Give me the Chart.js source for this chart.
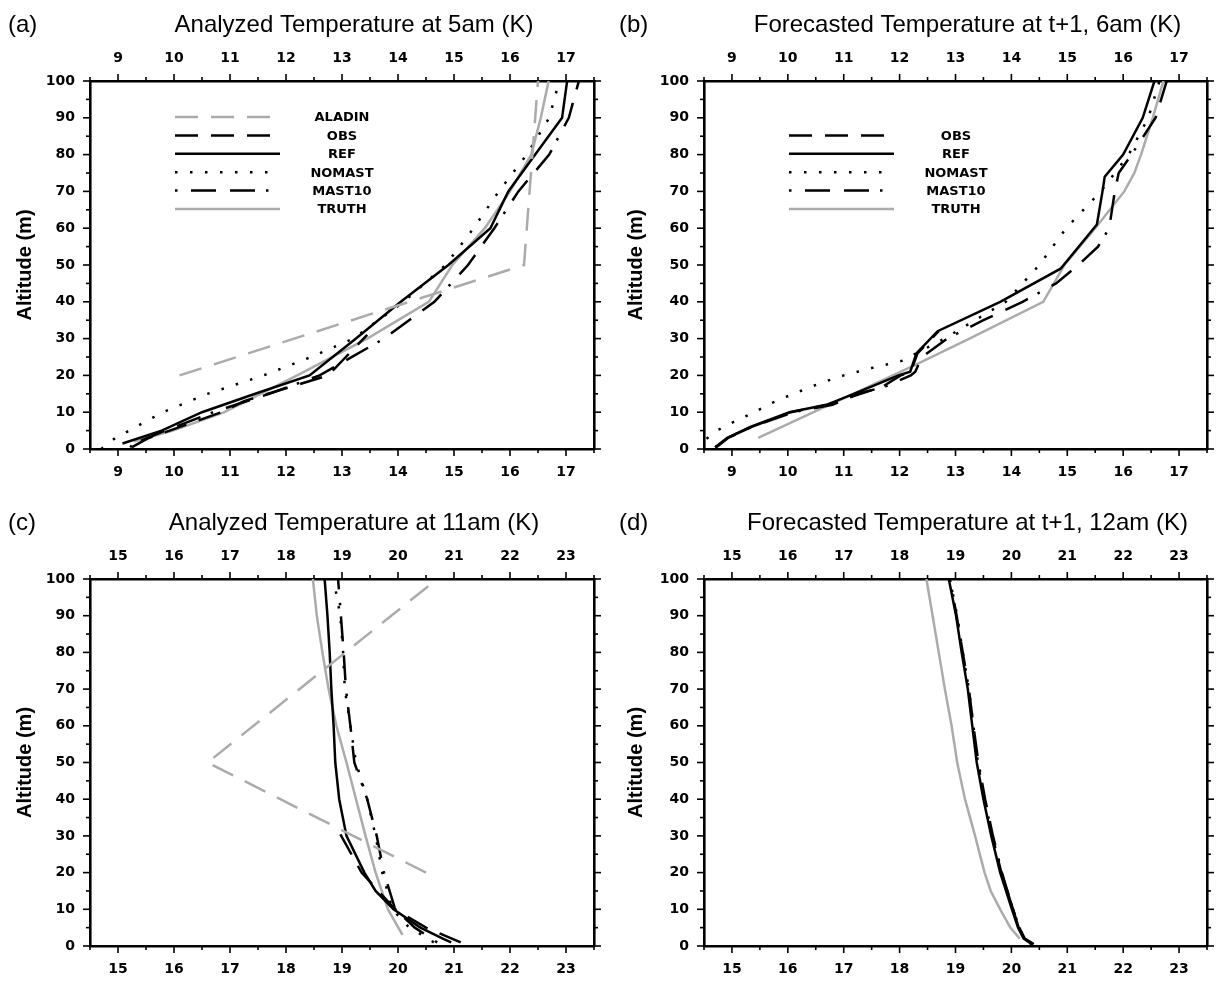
<!DOCTYPE html>
<html><head><meta charset="utf-8">
<script src="https://cdn.jsdelivr.net/npm/chart.js@4.4.1/dist/chart.umd.min.js"></script>
<style>
html,body{margin:0;padding:0;background:#fff;}
body{width:1222px;height:983px;position:relative;overflow:hidden;}
canvas{position:absolute;display:block;}
</style></head><body>
<canvas id="ca" width="611" height="492" style="left:0;top:0"></canvas>
<canvas id="cb" width="611" height="492" style="left:611px;top:0"></canvas>
<canvas id="cc" width="611" height="491" style="left:0;top:492px"></canvas>
<canvas id="cd" width="611" height="491" style="left:611px;top:492px"></canvas>
<script>
// ---------- tick labels ----------
const xTicksAB = [9, 10, 11, 12, 13, 14, 15, 16, 17];
const xTicksCD = [15, 16, 17, 18, 19, 20, 21, 22, 23];
const yTicks = [0, 10, 20, 30, 40, 50, 60, 70, 80, 90, 100];
const SERIES_NAMES = ['ALADIN', 'OBS', 'REF', 'NOMAST', 'MAST10', 'TRUTH'];
const titles = ['Analyzed Temperature at 5am (K)', 'Forecasted Temperature at t+1, 6am (K)',
                'Analyzed Temperature at 11am (K)', 'Forecasted Temperature at t+1, 12am (K)'];
const panelLabels = ['(a)', '(b)', '(c)', '(d)'];

// ---------- panel (a) ----------
const a_ALADIN_alt = [20, 50, 100];
const a_ALADIN_T   = [10.1, 16.25, 16.5];
const a_OBS_alt    = [0.5, 3, 10, 13, 20, 31];
const a_OBS_T      = [9.25, 9.55, 10.85, 11.25, 12.75, 13.45];
const a_REF_alt    = [1.5, 5, 10, 15, 20, 30, 40, 50, 60, 70, 80, 90, 100];
const a_REF_T      = [9.08, 9.78, 10.5, 11.45, 12.42, 13.25, 14.05, 14.9, 15.65, 15.97, 16.45, 16.93, 17.02];
const a_NOMAST_alt = [0, 3, 5, 10, 15, 20, 25, 30, 40, 50, 60, 70, 80, 90, 100];
const a_NOMAST_T   = [8.7, 8.95, 9.2, 9.8, 10.6, 11.6, 12.45, 13.2, 14.1, 14.85, 15.35, 15.8, 16.3, 16.7, 16.88];
const a_MAST10_alt = [0.5, 1, 5, 10, 15, 20, 30, 40, 50, 60, 70, 80, 90, 100];
const a_MAST10_T   = [9.25, 9.2, 9.85, 10.7, 11.7, 12.6, 13.75, 14.65, 15.25, 15.72, 16.15, 16.7, 17.05, 17.23];
const a_TRUTH_alt  = [2, 5, 10, 20, 30, 40, 50, 60, 70, 80, 90, 100];
const a_TRUTH_T    = [9.28, 9.98, 10.9, 12.2, 13.45, 14.55, 14.97, 15.55, 16.0, 16.38, 16.55, 16.69];

// ---------- panel (b) ----------
const b_OBS_alt    = [0.5, 3, 6, 10, 12, 15, 17, 20, 21, 26, 32];
const b_OBS_T      = [8.72, 8.93, 9.35, 10.05, 10.72, 11.3, 11.7, 12.02, 12.2, 12.32, 12.7];
const b_REF_alt    = [0.5, 3, 6, 10, 12, 15, 20, 21, 26, 32, 40, 49, 61, 70, 74, 80, 90, 100];
const b_REF_T      = [8.7, 8.91, 9.33, 10.03, 10.69, 11.18, 11.98, 12.19, 12.3, 12.68, 13.8, 14.88, 15.53, 15.63, 15.67, 16.0, 16.35, 16.56];
const b_NOMAST_alt = [0, 2.5, 5, 7, 10, 12.5, 15, 18, 20, 22, 24, 30, 40, 50, 60, 70, 80, 90, 100];
const b_NOMAST_T   = [8.35, 8.52, 8.73, 8.98, 9.4, 9.71, 10.1, 10.6, 11.0, 11.5, 12.05, 12.8, 13.9, 14.5, 14.98, 15.6, 16.1, 16.45, 16.65];
const b_MAST10_alt = [0.5, 3, 6, 10, 12, 15, 17, 20, 21, 25, 30, 35, 40, 45, 50, 55, 60, 70, 75, 80, 90, 100];
const b_MAST10_T   = [8.7, 8.92, 9.35, 10.1, 10.8, 11.25, 11.75, 12.2, 12.28, 12.4, 12.85, 13.5, 14.2, 14.8, 15.2, 15.55, 15.75, 15.85, 15.92, 16.15, 16.58, 16.78];
const b_TRUTH_alt  = [3, 10, 15, 23, 30, 40, 50, 60, 70, 75, 80, 90, 100];
const b_TRUTH_T    = [9.47, 10.46, 11.17, 12.3, 13.25, 14.57, 14.95, 15.5, 16.02, 16.2, 16.32, 16.53, 16.72];

// ---------- panel (c) ----------
const c_ALADIN_alt = [20, 50, 100];
const c_ALADIN_T   = [20.5, 16.6, 20.7];
const c_OBS_alt    = [1, 5, 10, 20, 31];
const c_OBS_T      = [21.12, 20.5, 19.95, 19.35, 18.95];
const c_REF_alt    = [1, 2, 5, 10, 15, 20, 30, 40, 50, 60, 70, 80, 90, 100];
const c_REF_T      = [20.95, 20.8, 20.4, 19.92, 19.6, 19.4, 19.08, 18.95, 18.88, 18.85, 18.81, 18.78, 18.74, 18.69];
const c_NOMAST_alt = [1, 3, 5, 10, 20, 30, 40, 50, 60, 70, 80, 90, 100];
const c_NOMAST_T   = [20.64, 20.43, 20.2, 19.9, 19.72, 19.6, 19.45, 19.25, 19.15, 19.05, 19.02, 18.97, 18.85];
const c_MAST10_alt = [1, 5, 10, 20, 30, 40, 50, 60, 70, 80, 90, 100];
const c_MAST10_T   = [20.7, 20.3, 19.95, 19.75, 19.62, 19.45, 19.22, 19.15, 19.07, 19.03, 18.98, 18.93];
const c_TRUTH_alt  = [3, 10, 20, 30, 40, 50, 60, 70, 80, 90, 100];
const c_TRUTH_T    = [20.08, 19.82, 19.6, 19.42, 19.25, 19.08, 18.9, 18.76, 18.65, 18.55, 18.48];

// ---------- panel (d) ----------
const d_OBS_alt    = [0.5, 2, 5, 10, 20, 30];
const d_OBS_T      = [20.4, 20.24, 20.14, 20.03, 19.82, 19.66];
const d_REF_alt    = [0.5, 2, 5, 10, 20, 30, 40, 50, 60, 70, 80, 90, 100];
const d_REF_T      = [20.37, 20.22, 20.12, 20.01, 19.8, 19.64, 19.5, 19.38, 19.3, 19.22, 19.11, 19.01, 18.88];
const d_NOMAST_alt = [0.5, 2, 5, 10, 20, 30, 40, 50, 60, 70, 80, 90, 100];
const d_NOMAST_T   = [20.38, 20.24, 20.14, 20.03, 19.82, 19.66, 19.52, 19.4, 19.32, 19.24, 19.13, 19.03, 18.9];
const d_MAST10_alt = [0.5, 2, 5, 10, 20, 30, 40, 50, 60, 70, 80, 90, 100];
const d_MAST10_T   = [20.36, 20.23, 20.13, 20.03, 19.83, 19.67, 19.53, 19.41, 19.32, 19.24, 19.13, 19.02, 18.9];
const d_TRUTH_alt  = [2, 5, 10, 15, 20, 30, 40, 50, 60, 70, 80, 90, 100];
const d_TRUTH_T    = [20.15, 19.98, 19.8, 19.63, 19.52, 19.35, 19.17, 19.03, 18.93, 18.81, 18.7, 18.59, 18.48];

// ---------- styles ----------
const GRAY = '#ababab';
const STYLE = {
  ALADIN: {color: GRAY, dash: [23, 13]},
  OBS:    {color: '#000', dash: [23, 13]},
  REF:    {color: '#000', dash: []},
  NOMAST: {color: '#000', dash: [2.5, 12.5]},
  MAST10: {color: '#000', dash: [2.5, 13.5, 25, 14, 25, 11]},
  TRUTH:  {color: GRAY, dash: []}
};
const TICK_FONT = {family: 'DejaVu Sans', weight: 'bold', size: 14};

function ds(name, alt, T) {
  return {
    label: name,
    data: alt.map((a, i) => ({x: T[i], y: a})),
    borderColor: STYLE[name].color,
    borderDash: STYLE[name].dash,
    borderWidth: 2.5,
    pointRadius: 0,
    showLine: true,
    fill: false,
    tension: 0
  };
}

const framePlugin = {
  id: 'frame',
  afterDraw(chart, args, opts) {
    const ctx = chart.ctx, ca = chart.chartArea;
    ctx.save();
    ctx.strokeStyle = '#000';
    ctx.lineWidth = 1.6;
    const xs = chart.scales.x;
    for (let v = xs.min; v <= xs.max + 1e-9; v += 0.5) {
      const px = xs.getPixelForValue(v);
      const L = Math.abs(v - Math.round(v)) < 1e-6 ? 7 : 4;
      ctx.beginPath(); ctx.moveTo(px, ca.bottom); ctx.lineTo(px, ca.bottom + L); ctx.stroke();
      ctx.beginPath(); ctx.moveTo(px, ca.top); ctx.lineTo(px, ca.top - L); ctx.stroke();
    }
    const ys = chart.scales.y;
    for (let v = ys.min; v <= ys.max + 1e-9; v += 5) {
      const py = ys.getPixelForValue(v);
      const L = (v % 10 === 0) ? 7 : 4;
      ctx.beginPath(); ctx.moveTo(ca.left, py); ctx.lineTo(ca.left - L, py); ctx.stroke();
      ctx.beginPath(); ctx.moveTo(ca.right, py); ctx.lineTo(ca.right + L, py); ctx.stroke();
    }
    ctx.fillStyle = '#000';
    ctx.font = '24px "Liberation Sans", Arial, sans-serif';
    ctx.textBaseline = 'alphabetic';
    ctx.textAlign = 'left';
    ctx.fillText(opts.label, 8, ca.top - 49);
    ctx.textAlign = 'center';
    ctx.fillText(opts.title, (ca.left + ca.right) / 2 + 12, ca.top - 49);
    if (opts.legend && opts.legend.length) {
      ctx.font = 'bold 13px "DejaVu Sans", sans-serif';
      ctx.textBaseline = 'middle';
      opts.legend.forEach(name => {
        const idx = SERIES_NAMES.indexOf(name);
        const y = ca.top + 36 + 18.4 * idx;
        const st = STYLE[name];
        ctx.strokeStyle = st.color;
        ctx.lineWidth = 2.5;
        ctx.setLineDash(st.dash);
        ctx.beginPath(); ctx.moveTo(ca.left + 85, y); ctx.lineTo(ca.left + 190, y); ctx.stroke();
        ctx.setLineDash([]);
        ctx.fillStyle = '#000';
        ctx.textAlign = 'center';
        ctx.fillText(name, ca.left + 252, y + 1);
      });
    }
    ctx.restore();
  }
};

function axisX(pos, min, max, ticks, h, pad) {
  return {
    type: 'linear', position: pos, min: min, max: max,
    afterBuildTicks: s => { s.ticks = ticks.map(v => ({value: v})); },
    afterFit: s => { s.height = h; },
    grid: {drawOnChartArea: false, drawTicks: true, tickLength: 7, color: 'rgba(0,0,0,0)'},
    border: {display: true, color: '#000', width: 2.6},
    ticks: {padding: pad, font: TICK_FONT, color: '#000', maxRotation: 0, autoSkip: false}
  };
}

function makeChart(id, datasets, xMin, xMax, xTicks, lay, title, label, legend) {
  new Chart(document.getElementById(id), {
    type: 'scatter',
    data: {datasets: datasets},
    options: {
      responsive: false, animation: false,
      layout: {padding: 0},
      plugins: {legend: {display: false}, tooltip: {enabled: false}, title: {display: false},
                frame: {title: title, label: label, legend: legend}},
      scales: {
        x: axisX('bottom', xMin, xMax, xTicks, lay.bottom, 8),
        x2: axisX('top', xMin, xMax, xTicks, lay.top, 7),
        y: {
          type: 'linear', position: 'left', min: 0, max: 100,
          afterBuildTicks: s => { s.ticks = yTicks.map(v => ({value: v})); },
          afterFit: s => { s.width = lay.left; },
          grid: {drawOnChartArea: false, drawTicks: true, tickLength: 7, color: 'rgba(0,0,0,0)'},
          border: {display: true, color: '#000', width: 2.6},
          ticks: {padding: 8, font: TICK_FONT, color: '#000', autoSkip: false},
          title: {display: true, text: 'Altitude (m)', color: '#000',
                  font: {family: 'Liberation Sans', weight: 'bold', size: 20},
                  padding: {top: 13, bottom: 0}}
        },
        y2: {
          type: 'linear', position: 'right', min: 0, max: 100,
          afterFit: s => { s.width = lay.right; },
          grid: {drawOnChartArea: false, drawTicks: false, color: 'rgba(0,0,0,0)'},
          border: {display: true, color: '#000', width: 2.6},
          ticks: {display: false}
        }
      }
    },
    plugins: [framePlugin]
  });
}

makeChart('ca', [
  ds('ALADIN', a_ALADIN_alt, a_ALADIN_T), ds('OBS', a_OBS_alt, a_OBS_T), ds('REF', a_REF_alt, a_REF_T),
  ds('NOMAST', a_NOMAST_alt, a_NOMAST_T), ds('MAST10', a_MAST10_alt, a_MAST10_T), ds('TRUTH', a_TRUTH_alt, a_TRUTH_T)
], 8.5, 17.5, xTicksAB, {left: 90, right: 17, top: 81, bottom: 43}, titles[0], panelLabels[0], SERIES_NAMES);

makeChart('cb', [
  ds('OBS', b_OBS_alt, b_OBS_T), ds('REF', b_REF_alt, b_REF_T),
  ds('NOMAST', b_NOMAST_alt, b_NOMAST_T), ds('MAST10', b_MAST10_alt, b_MAST10_T), ds('TRUTH', b_TRUTH_alt, b_TRUTH_T)
], 8.5, 17.5, xTicksAB, {left: 93, right: 15, top: 81, bottom: 43}, titles[1], panelLabels[1], SERIES_NAMES.slice(1));

makeChart('cc', [
  ds('ALADIN', c_ALADIN_alt, c_ALADIN_T), ds('OBS', c_OBS_alt, c_OBS_T), ds('REF', c_REF_alt, c_REF_T),
  ds('NOMAST', c_NOMAST_alt, c_NOMAST_T), ds('MAST10', c_MAST10_alt, c_MAST10_T), ds('TRUTH', c_TRUTH_alt, c_TRUTH_T)
], 14.5, 23.5, xTicksCD, {left: 90, right: 17, top: 87, bottom: 37}, titles[2], panelLabels[2], []);

makeChart('cd', [
  ds('OBS', d_OBS_alt, d_OBS_T), ds('REF', d_REF_alt, d_REF_T),
  ds('NOMAST', d_NOMAST_alt, d_NOMAST_T), ds('MAST10', d_MAST10_alt, d_MAST10_T), ds('TRUTH', d_TRUTH_alt, d_TRUTH_T)
], 14.5, 23.5, xTicksCD, {left: 93, right: 15, top: 87, bottom: 37}, titles[3], panelLabels[3], []);
</script>
</body></html>
